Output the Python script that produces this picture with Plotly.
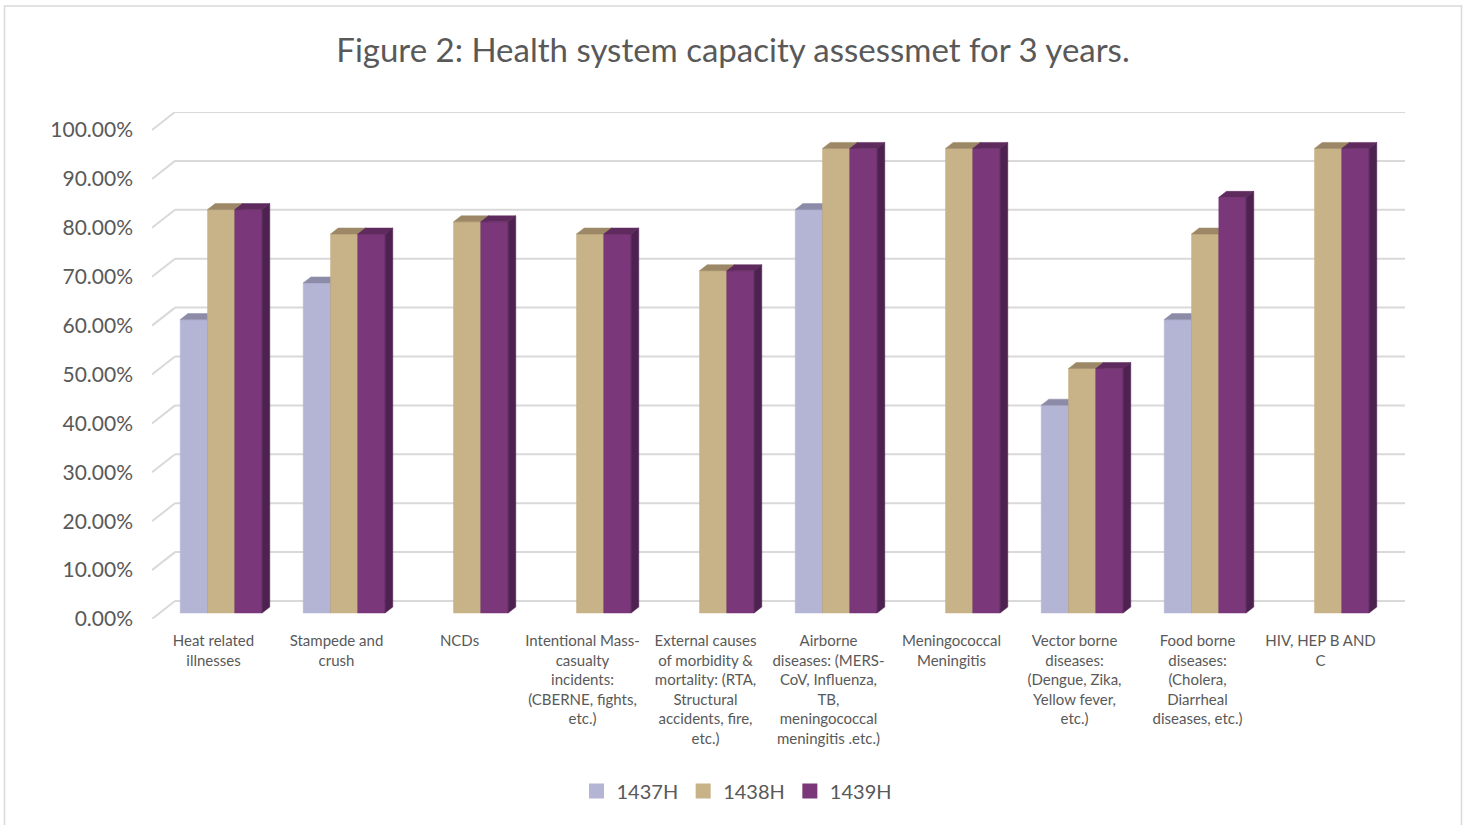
import plotly.graph_objects as go

# ---------------- data ----------------
categories = [
    "Heat related<br>illnesses",
    "Stampede and<br>crush",
    "NCDs",
    "Intentional Mass-<br>casualty<br>incidents:<br>(CBERNE, fights,<br>etc.)",
    "External causes<br>of morbidity &<br>mortality: (RTA,<br>Structural<br>accidents, fire,<br>etc.)",
    "Airborne<br>diseases: (MERS-<br>CoV, Influenza,<br>TB,<br>meningococcal<br>meningitis .etc.)",
    "Meningococcal<br>Meningitis",
    "Vector borne<br>diseases:<br>(Dengue, Zika,<br>Yellow fever,<br>etc.)",
    "Food borne<br>diseases:<br>(Cholera,<br>Diarrheal<br>diseases, etc.)",
    "HIV, HEP B AND<br>C",
]
series_names = ["1437H", "1438H", "1439H"]
values_1437 = [60, 67.5, None, None, None, 82.5, None, 42.5, 60, None]
values_1438 = [82.5, 77.5, 80, 77.5, 70, 95, 95, 50, 77.5, 95]
values_1439 = [82.5, 77.5, 80, 77.5, 70, 95, 95, 50, 85, 95]
y_ticks = [0, 10, 20, 30, 40, 50, 60, 70, 80, 90, 100]
y_tick_labels = ["0.00%", "10.00%", "20.00%", "30.00%", "40.00%", "50.00%",
                 "60.00%", "70.00%", "80.00%", "90.00%", "100.00%"]
title_text = "Figure 2: Health system capacity assessmet for 3 years."

# ---------------- style ----------------
front_colors = ["#B4B4D4", "#C8B288", "#7A3779"]
top_colors = ["#8C8CA8", "#9C8866", "#5F2A5D"]
side_colors = ["#85859F", "#8F7C5C", "#4E2250"]
grid_color = "#D9D9D9"
text_color = "#595959"
FONT = "Lato"

W, H = 1469, 825
L, R, T, B = 152, 64, 112, 206
n_cat = len(categories)
plot_w = W - L - R
plot_h = H - T - B

# 3D projection offsets (in data units)
px_per_x = 123.0
px_per_y = 4.89
DXB = 23 / px_per_x          # back wall x offset
DYB = 18 / px_per_y          # back wall y offset
DXF = DXB / 3                # bar front offset / bar depth
DYF = DYB / 3
BW = 27.3 / px_per_x         # bar width

fig = go.Figure()

all_values = [values_1437, values_1438, values_1439]
for s, vals in enumerate(all_values):
    fx, fy, tx, ty, sx, sy = [], [], [], [], [], []
    for i, v in enumerate(vals):
        if v is None:
            continue
        c = i + 0.5 + DXF
        xl = c + (s - 1.5) * BW
        xr = xl + BW
        b0 = DYF
        top = v + DYF
        fx += [xl, xr, xr, xl, xl, None]
        fy += [b0, b0, top, top, b0, None]
        tx += [xl, xr, xr + DXF, xl + DXF, xl, None]
        ty += [top, top, top + DYF, top + DYF, top, None]
        sx += [xr, xr + DXF, xr + DXF, xr, xr, None]
        sy += [b0, b0 + DYF, top + DYF, top, b0, None]
    for xs, ys, col in ((fx, fy, front_colors[s]), (tx, ty, top_colors[s]), (sx, sy, side_colors[s])):
        fig.add_trace(go.Scatter(
            x=xs, y=ys, mode="lines", fill="toself", fillcolor=col,
            line=dict(width=0.5, color=col), showlegend=False,
            hoverinfo="skip", connectgaps=False,
        ))

# legend entries
for s, name in enumerate(series_names):
    fig.add_trace(go.Scatter(
        x=[-5], y=[-5], mode="markers", name=name,
        marker=dict(symbol="square", size=15, color=front_colors[s]),
    ))

# back wall gridlines + left wall diagonals
shapes = []
for t in y_ticks:
    shapes.append(dict(type="line", xref="x", yref="y", x0=DXB, x1=n_cat + DXB,
                       y0=t + DYB, y1=t + DYB, line=dict(color=grid_color, width=2), layer="below"))
    shapes.append(dict(type="line", xref="x", yref="y", x0=0, x1=DXB,
                       y0=t, y1=t + DYB, line=dict(color=grid_color, width=2), layer="below"))
# chart border
shapes.append(dict(type="rect", xref="paper", yref="paper",
                   x0=(4.5 - L) / plot_w, x1=(1461.5 - L) / plot_w,
                   y0=(H - B - 835) / plot_h, y1=(H - B - 6) / plot_h,
                   line=dict(color=grid_color, width=1.5), layer="below"))

fig.update_layout(
    width=W, height=H, autosize=False,
    margin=dict(l=L, r=R, t=T, b=B, pad=0),
    paper_bgcolor="white", plot_bgcolor="white",
    shapes=shapes,
    title=dict(text=title_text, x=733 / W, xanchor="center", y=1 - 50 / H,
               yanchor="middle", yref="container",
               font=dict(family=FONT, size=33, color=text_color)),
    xaxis=dict(range=[0, n_cat + DXB], tickvals=[i + 0.5 for i in range(n_cat)],
               ticktext=categories, showgrid=False, zeroline=False, showline=False,
               ticks="", ticklabelstandoff=11,
               tickfont=dict(family=FONT, size=15, color=text_color),
               tickangle=0, fixedrange=True),
    yaxis=dict(range=[0, 100 + DYB], tickvals=y_ticks, ticktext=y_tick_labels,
               showgrid=False, zeroline=False, showline=False, ticks="",
               ticklabelstandoff=18,
               tickfont=dict(family=FONT, size=21, color=text_color), fixedrange=True),
    legend=dict(orientation="h", x=(737 - L) / plot_w, xanchor="center",
                y=(H - B - 791) / plot_h, yanchor="middle",
                font=dict(family=FONT, size=20, color=text_color),
                itemwidth=30, bgcolor="rgba(0,0,0,0)"),
    showlegend=True,
)

fig.write_html("out.html")
